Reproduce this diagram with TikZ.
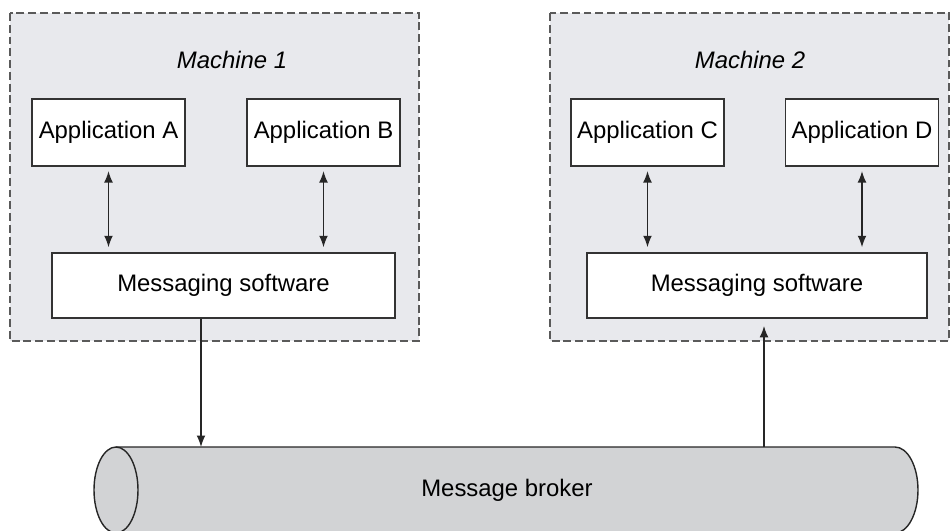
\documentclass[tikz,border=0pt]{standalone}
\usepackage{fontspec}
\setmainfont{Liberation Sans}
\usetikzlibrary{arrows.meta}
\definecolor{fondomaq}{RGB}{232,233,237}
\definecolor{fondobus}{RGB}{210,211,213}
\definecolor{borde}{RGB}{90,90,90}

\begin{document}
\begin{tikzpicture}[x=0.02cm,y=-0.02cm,
    >={Latex[length=6.5pt,width=5pt]},
    every node/.style={font=\fontsize{13.6}{16}\selectfont},
    maquina/.style={draw=borde,dashed,dash pattern=on 4.5pt off 2.2pt,line width=0.7pt,fill=fondomaq},
    app/.style={draw=black!80,line width=1pt,fill=white,minimum width=3.06cm,minimum height=1.34cm,inner sep=0pt},
    msg/.style={draw=black!80,line width=1pt,fill=white,minimum height=1.3cm,inner sep=0pt},
    flecha/.style={line width=0.75pt,black!85}]
  \useasboundingbox (0,0) rectangle (951,531);

  % Maquinas
  \draw[maquina] (10,13) rectangle (419,341);
  \draw[maquina] (550,13) rectangle (949,341);
  \node[font=\fontsize{13.6}{16}\selectfont\itshape] (maq1) at (232,60) {Machine 1};
  \node[font=\fontsize{13.6}{16}\selectfont\itshape] (maq2) at (750,60) {Machine 2};

  % Aplicaciones
  \node[app] (appA) at (108.5,132.5) {Application A};
  \node[app] (appB) at (323.5,132.5) {Application B};
  \node[app] (appC) at (647.5,132.5) {Application C};
  \node[app] (appD) at (862,132.5) {Application D};

  % Software de mensajeria
  \node[msg,minimum width=6.86cm] (msg1) at (223.5,285.5) {Messaging software};
  \node[msg,minimum width=6.8cm] (msg2) at (757,285.5) {Messaging software};

  \foreach \a/\m in {appA/msg1,appB/msg1,appC/msg2,appD/msg2}
    \draw[flecha,<->,shorten <=2.4pt,shorten >=2.8pt] (\a.south) -- (\a.south |- \m.north);

  % Broker (cilindro)
  \fill[fondobus] (116,447) -- (895,447)
    arc[start angle=90,end angle=-90,x radius=0.46cm,y radius=0.86cm]
    -- (116,533) arc[start angle=270,end angle=90,x radius=0.44cm,y radius=0.86cm] -- cycle;
  \draw[line width=0.8pt,black!85] (116,447) -- (895,447)
    arc[start angle=90,end angle=-90,x radius=0.46cm,y radius=0.86cm] -- (116,533);
  \draw[line width=0.8pt,black!85] (116,490) ellipse[x radius=0.44cm,y radius=0.86cm];
  \node (broker) at (507,490) {Message broker};

  % Conexiones con el broker
  \coordinate (sal1) at (201,447);
  \coordinate (ent2) at (764,447);
  \draw[flecha,->] (msg1.south -| sal1) -- (sal1);
  \draw[flecha,->,shorten >=4pt] (ent2) -- (msg2.south -| ent2);
\end{tikzpicture}
\end{document}
